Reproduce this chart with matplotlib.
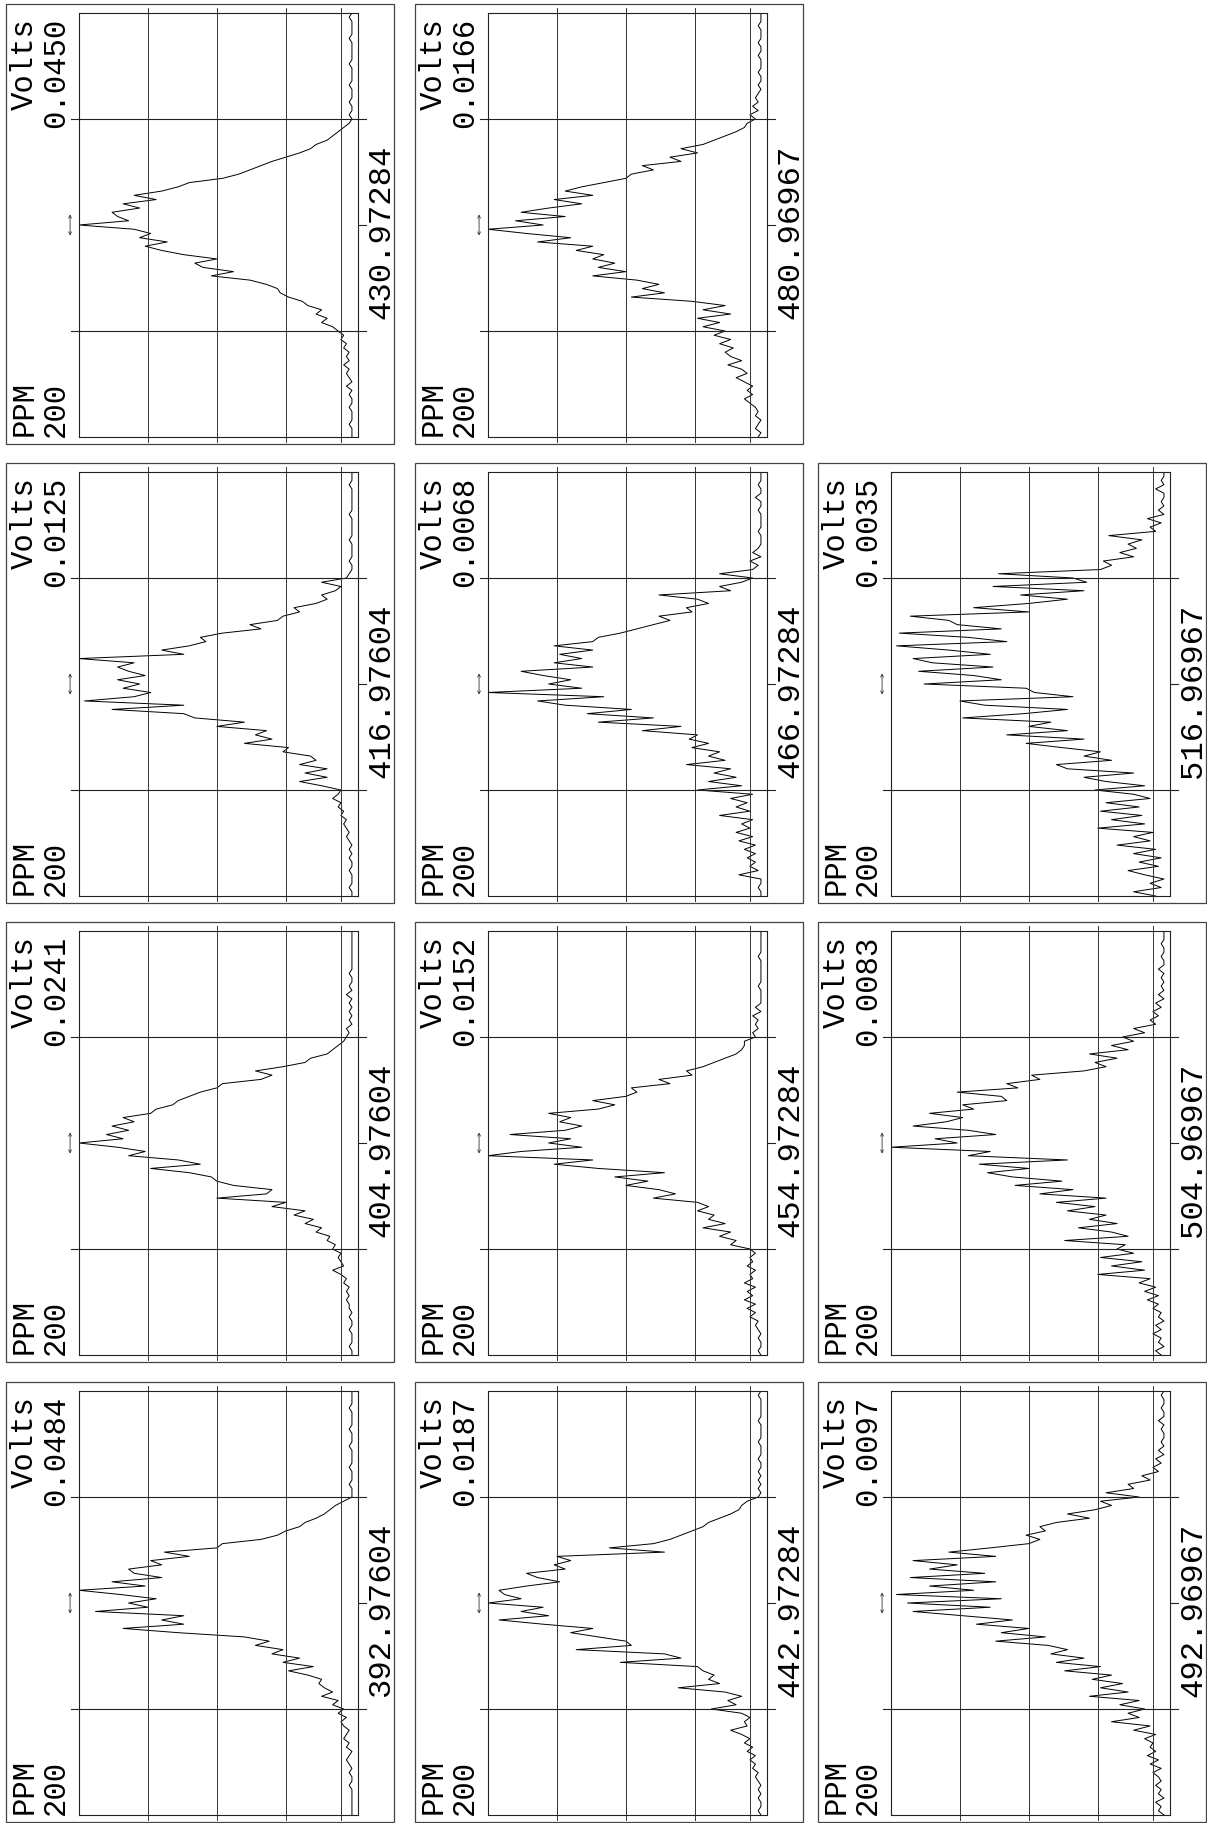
import numpy as np
import matplotlib
matplotlib.use("Agg")
import matplotlib.pyplot as plt
from matplotlib.patches import Rectangle
from matplotlib.transforms import blended_transform_factory

W, H = 1207, 1823
plt.rcParams['font.family'] = ['Liberation Mono', 'DejaVu Sans Mono']

# panel labels (mass) and full-scale volts, in page order
masses = ["392.97604", "404.97604", "416.97604", "430.97284",
          "442.97284", "454.97284", "466.97284", "480.96967",
          "492.96967", "504.96967", "516.96967"]
full_scale = ["0.0484", "0.0241", "0.0125", "0.0450",
              "0.0187", "0.0152", "0.0068", "0.0166",
              "0.0097", "0.0083", "0.0035"]

# signal in % of full scale, read from +200 ppm to -200 ppm
pct_392 = [1,1,1,1,1,1,1,2,1,1,2,1,2,3,2,1,3,2,4,3,2,4,5,3,6,
           4,8,6,12,8,11,13,12,17,24,15,26,20,30,26,36,31,40,
           64,84,62,70,62,94,75,82,72,85,100,76,88,70,80,
           82,70,74,60,69,50,48,34,28,25,20,18,14,11,9,7,4,1,
           1,1,2,1,1,1,2,1,1,1,1,2,1,1,1,2,1,1,1,1,2,1,1,1,1]
pct_404 = [1,1,2,1,1,1,2,1,1,2,1,
           2,2,3,2,3,2,4,3,5,8,4,5,6,5,
           8,7,10,9,14,12,18,15,22,18,30,25,50,32,30,44,50,52,
           60,74,56,64,82,76,86,100,84,90,82,88,80,84,74,72,66,64,60,56,50,48,
           34,30,36,26,18,16,10,8,6,4,3,2,3,1,2,1,2,1,
           2,1,3,1,2,1,1,2,1,1,1,1,1,1,1,1,1,1]
pct_416 = [1,1,2,1,1,1,2,1,1,2,1,2,1,2,3,2,
           3,4,3,5,4,6,5,8,6,5,12,20,10,18,10,20,14,16,26,24,
           40,30,36,32,50,40,58,62,88,62,98,80,74,84,78,86,76,82,86,80,100,
           62,70,60,54,56,48,34,38,28,26,20,22,14,10,12,7,5,12,3,
           2,1,1,2,1,1,1,1,2,1,1,1,1,1,2,1,1,1,1,1,1,2,1,1,1]
pct_430 = [1,1,1,2,1,1,1,2,1,1,2,1,3,1,2,3,2,4,2,3,2,
           4,3,5,4,6,8,12,10,14,12,17,19,24,27,28,32,38,
           52,44,55,58,50,62,70,76,68,78,74,80,100,82,86,88,78,84,72,80,70,64,60,
           48,42,38,34,30,25,20,16,14,10,8,6,4,2,
           1,2,1,1,2,1,1,1,2,1,1,1,1,2,1,1,1,1,1,2,1,1,1,1,2,1]
pct_442 = [1,2,1,1,2,1,2,1,2,3,2,4,3,5,3,6,4,7,5,8,12,6,7,5,8,
           19,10,13,8,14,31,16,20,18,22,24,52,30,36,68,48,50,60,70,62,80,
           96,78,88,80,100,88,94,96,86,74,82,86,72,76,70,75,
           36,56,40,34,30,26,22,20,16,12,9,8,6,2,
           1,2,1,2,1,2,1,1,2,1,1,1,2,1,1,1,1,2,1,1,1,1,1,2,1]
pct_454 = [1,2,1,1,2,1,2,3,2,5,3,6,3,7,4,6,3,7,4,5,3,6,4,5,3,5,
           12,10,16,12,22,14,20,18,24,20,24,40,32,38,50,42,54,36,60,76,62,
           100,88,66,78,70,92,72,66,74,70,78,60,54,62,50,46,48,
           34,38,26,28,22,18,14,10,8,7,7,3,4,2,3,2,4,1,3,1,
           1,1,1,2,1,1,1,1,1,1,2,1,1,1,1,1,1]
pct_466 = [1,1,2,1,1,9,2,5,3,6,3,7,3,9,4,10,5,8,4,16,5,10,6,12,4,
           24,8,20,10,18,12,28,14,20,16,26,20,27,24,44,30,60,40,64,48,72,82,58,
           100,66,78,70,80,88,62,76,66,74,62,76,62,60,52,46,40,34,38,
           26,28,20,24,38,12,16,8,4,16,4,2,5,1,4,2,1,
           1,1,2,1,1,1,1,2,1,1,3,1,1,2,1,1,1]
pct_480 = [2,1,3,2,1,3,2,3,5,7,4,6,4,7,10,6,8,
           13,8,12,14,11,16,12,18,14,22,16,24,12,22,14,26,
           48,36,44,38,46,62,50,60,54,62,58,68,62,82,70,86,
           100,80,90,72,88,78,66,76,62,72,66,58,50,48,40,44,
           30,34,24,30,22,18,14,10,7,6,3,5,2,4,2,3,2,1,
           2,1,1,2,1,1,1,2,1,1,2,1,1,1,2,1,1,1]
pct_492 = [1,3,2,4,1,3,2,4,2,3,5,2,6,3,7,4,6,5,8,4,12,6,
           20,10,14,8,17,10,28,14,24,16,27,20,37,24,40,30,42,36,43,62,44,60,50,
           69,56,74,92,64,94,60,98,70,86,62,93,66,86,76,92,62,79,64,
           50,46,51,44,46,40,28,36,26,20,24,10,22,12,14,6,9,3,5,2,4,1,3,1,
           2,1,1,2,1,3,1,1,2,1,1,2,1]
pct_504 = [2,4,1,3,2,5,2,4,1,3,2,5,3,7,3,8,4,10,6,
           25,8,20,9,24,12,18,15,37,14,20,32,18,28,22,36,26,40,22,46,34,55,38,56,
           65,50,68,36,72,64,100,76,84,62,72,92,80,74,86,70,74,58,60,76,54,58,
           46,49,30,22,26,18,28,14,20,12,16,8,12,4,6,3,5,2,4,1,3,1,2,
           1,2,1,3,1,1,2,1,1,2,1,1,1]
pct_516 = [4,12,2,6,1,8,14,3,10,2,12,4,18,6,12,5,25,8,20,9,24,10,22,6,12,
           26,8,22,30,12,36,40,20,30,24,38,51,30,58,36,50,42,74,52,36,66,75,34,48,51,
           88,60,70,90,63,85,92,64,79,98,58,72,97,60,76,79,93,50,70,50,36,53,30,63,29,34,
           61,24,20,23,12,17,11,14,9,21,4,6,2,7,1,3,1,2,1,1,4,1,2,1,1]

signals = [pct_392, pct_404, pct_416, pct_430,
           pct_442, pct_454, pct_466, pct_480,
           pct_492, pct_504, pct_516]

# page layout (pixels): columns left->right, rows bottom->top of the page
col_x = [6, 415, 818]
row_y = [1382, 922, 463, 4]
BW, BH = 388, 440


def fig_rect(x, y, w, h):
    return [x / W, 1 - (y + h) / H, w / W, h / H]


fig = plt.figure(figsize=(W / 100, H / 100), dpi=100)
fig.patch.set_facecolor('white')
renderer = fig.canvas.get_renderer()


def fit_size(s, target_px, base=20.0):
    # scale font so the rotated string is target_px long on the page
    t = fig.text(0, 0, s, fontsize=base, rotation=90)
    n = t.get_window_extent(renderer).height
    t.remove()
    return base * target_px / n


fs = fit_size("0.0484", 110)
fs_mass = fit_size("392.97604", 174)


def ftext(x, y, s, size, ha):
    fig.text(x / W, 1 - y / H, s, rotation=90, rotation_mode='anchor',
             ha=ha, va='baseline', fontsize=size)


for k, (mass, vs, pct) in enumerate(zip(masses, full_scale, signals)):
    bx = col_x[k // 4]
    by = row_y[k % 4]
    vmax = float(vs)

    fig.patches.append(Rectangle((bx / W, 1 - (by + BH) / H), BW / W, BH / H,
                                 transform=fig.transFigure, fill=False,
                                 lw=0.9, ec='#444444'))

    ax = fig.add_axes(fig_rect(bx + 73, by + 9, 279, 424))
    ppm = np.linspace(200, -200, len(pct))
    volts = np.array(pct) / 100.0 * vmax
    ax.plot(volts, ppm, color='black', lw=0.7)
    ax.set_xlim(vmax, -0.012 * vmax)
    ax.set_ylim(200, -200)
    ax.set_xticks([])
    ax.set_yticks([])
    for sp in ax.spines.values():
        sp.set_linewidth(0.8)
        sp.set_color('#222222')

    for f in [0.75, 0.5, 0.25, 0.05]:
        ax.axvline(f * vmax, ymin=-0.012, ymax=1.012, color='#333333',
                   lw=0.7, clip_on=False)
    for p in [100, -100]:
        ax.axhline(p, xmin=-0.03, xmax=1.03, color='#222222', lw=0.8,
                   clip_on=False)

    trans = blended_transform_factory(ax.transAxes, ax.transData)
    ax.plot([1.0, 1.03], [0, 0], color='#222222', lw=0.8, transform=trans,
            clip_on=False)
    ax.annotate('', xy=(-0.032, -10), xytext=(-0.032, 10), xycoords=trans,
                textcoords=trans,
                arrowprops=dict(arrowstyle='<->', lw=0.6, mutation_scale=5,
                                shrinkA=0, shrinkB=0, color='#333333'))

    ftext(bx + 27, by + 432, "PPM", fs, 'left')
    ftext(bx + 58, by + 433, "200", fs, 'left')
    ftext(bx + 27, by + 14, "Volts", fs, 'right')
    ftext(bx + 58, by + 14, vs, fs, 'right')
    ftext(bx + 383, by + 228, mass, fs_mass, 'center')

fig.savefig('out.png', dpi=100, facecolor='white')
